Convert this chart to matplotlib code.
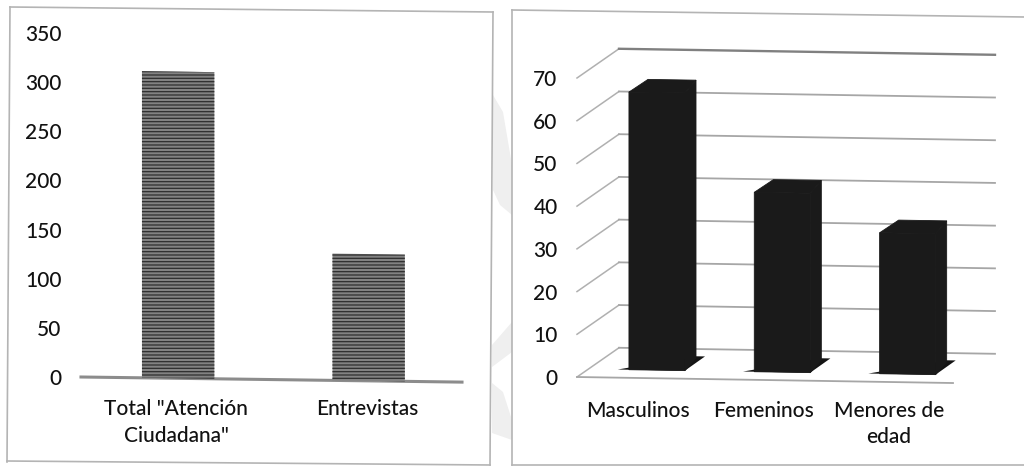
import numpy as np
import matplotlib
matplotlib.use('Agg')
import matplotlib.pyplot as plt
from matplotlib.lines import Line2D
from matplotlib.patches import Polygon
from matplotlib.transforms import Affine2D

# left chart
cats_left = ['Total "Atención\nCiudadana"', 'Entrevistas']
vals_left = [312, 129]
ticks_left = [0, 50, 100, 150, 200, 250, 300, 350]

# right chart
cats_right = ['Masculinos', 'Femeninos', 'Menores de\nedad']
vals_right = [65, 42, 33]
ticks_right = [0, 10, 20, 30, 40, 50, 60, 70]

W, H = 1024, 467
plt.rcParams['font.family'] = ['Lato', 'DejaVu Sans']
plt.rcParams['font.weight'] = 'medium'
plt.rcParams['hatch.linewidth'] = 0.9
TXT = '#111111'
FS = 15

fig = plt.figure(figsize=(W / 100, H / 100), dpi=100, facecolor='white')
# the scan uses image pixels for the frames and faint marks
px = Affine2D().scale(1 / W, -1 / H).translate(0, 1) + fig.transFigure


def axes_px(x0, x1, y_top, y_bottom):
    return fig.add_axes([x0 / W, 1 - y_bottom / H, (x1 - x0) / W, (y_bottom - y_top) / H])


def frame_line(xs, ys, color='#b4b4b4', lw=1.2):
    fig.add_artist(Line2D(xs, ys, transform=px, color=color, lw=lw))


def clean(ax, ticks, labels, cat_pos):
    for s in ax.spines.values():
        s.set_visible(False)
    ax.set_yticks(ticks)
    ax.set_xticks(cat_pos)
    ax.set_xticklabels(labels, fontsize=FS, color=TXT, linespacing=1.4)
    ax.tick_params(axis='both', length=0, labelcolor=TXT, labelsize=FS)
    ax.patch.set_alpha(0)


def skewed(ax, shear):
    # the page was scanned a little crooked
    return Affine2D.from_values(1, shear, 0, 1, 0, 0) + ax.transData


# faint show-through from the back of the page
for pts in [[(493, 95), (503, 112), (512, 165), (512, 215), (500, 205), (493, 190)],
            [(492, 345), (512, 322), (512, 352), (492, 367)],
            [(492, 383), (503, 392), (512, 420), (512, 440), (492, 433)]]:
    fig.add_artist(Polygon(pts, closed=True, transform=px, fc='#efefef', ec='none'))

# frames
frame_line([10, 493], [7, 12])
frame_line([10, 7], [7, 462])
frame_line([493, 490], [12, 465])
frame_line([7, 490], [461, 465])
frame_line([512, 1024], [10, 17])
frame_line([512, 512], [10, 465])
frame_line([512, 1024], [465, 465])

# ---- left: flat striped bars
ax1 = axes_px(81, 462, 33, 377)
ax1.set_xlim(0, 2)
ax1.set_ylim(0, 350)
clean(ax1, ticks_left, cats_left, [0.5, 1.5])
ax1.tick_params(axis='y', pad=14)
ax1.tick_params(axis='x', pad=16)
tr1 = skewed(ax1, -2.6)
pos_left = np.array([0.5, 1.5]) + 0.01
ax1.bar(pos_left, vals_left, width=0.38, color='#828282', edgecolor='#2e2e2e',
        hatch='-----', linewidth=0, transform=tr1, clip_on=False, zorder=2)
ax1.plot([0, 2], [0, 0], color='#8c8c8c', lw=2.2, transform=tr1, clip_on=False, zorder=1)

# ---- right: fake 3d column chart
ax2 = axes_px(577, 953, 78, 377)
ax2.set_xlim(0, 3)
ax2.set_ylim(0, 70)
clean(ax2, ticks_right, cats_right, [0.49, 1.49, 2.49])
ax2.tick_params(axis='y', pad=14)
ax2.tick_params(axis='x', pad=17)
tr2 = skewed(ax2, -0.47)

wall_dx, wall_dy = 0.335, 7.0
for v in ticks_right:
    ax2.plot([0, wall_dx], [v, v + wall_dy], color='#b0b0b0', lw=1.1,
             transform=tr2, clip_on=False, zorder=1)
    c = '#808080' if v == 70 else '#a6a6a6'
    lw = 1.7 if v == 70 else 1.3
    ax2.plot([wall_dx, 3 + wall_dx], [v + wall_dy, v + wall_dy], color=c, lw=lw,
             transform=tr2, clip_on=False, zorder=1)
ax2.plot([0, 3], [0, 0], color='#a6a6a6', lw=1.3, transform=tr2, clip_on=False, zorder=1)

bar_w, bar_shift, lift = 0.447, 0.138, 1.9
dark = '#1a1a1a'
for i, v in enumerate(vals_right):
    x0 = i + 0.5 + bar_shift - bar_w / 2
    x1 = x0 + bar_w
    top = lift + v
    ax2.bar(x0 + bar_w / 2, v, bottom=lift, width=bar_w, color=dark, edgecolor=dark, linewidth=0.6,
            transform=tr2, clip_on=False, zorder=3)
    # floor shadow, side and top faces
    ax2.add_patch(Polygon([(x0 - 0.09, lift), (x1, lift), (x1 + 0.16, lift + 3.4), (x1 + 0.08, lift + 3.4)],
                          closed=True, fc='#141414', ec='none', transform=tr2, clip_on=False, zorder=2))
    ax2.add_patch(Polygon([(x1, lift), (x1 + 0.088, lift + 3.04), (x1 + 0.088, top + 3.04), (x1, top)],
                          closed=True, fc=dark, ec=dark, lw=0.6, transform=tr2, clip_on=False, zorder=3))
    ax2.add_patch(Polygon([(x0, top), (x0 + 0.152, top + 3.04), (x1 + 0.088, top + 3.04), (x1, top)],
                          closed=True, fc=dark, ec=dark, lw=0.6, transform=tr2, clip_on=False, zorder=3))

fig.savefig('out.png', dpi=100)
